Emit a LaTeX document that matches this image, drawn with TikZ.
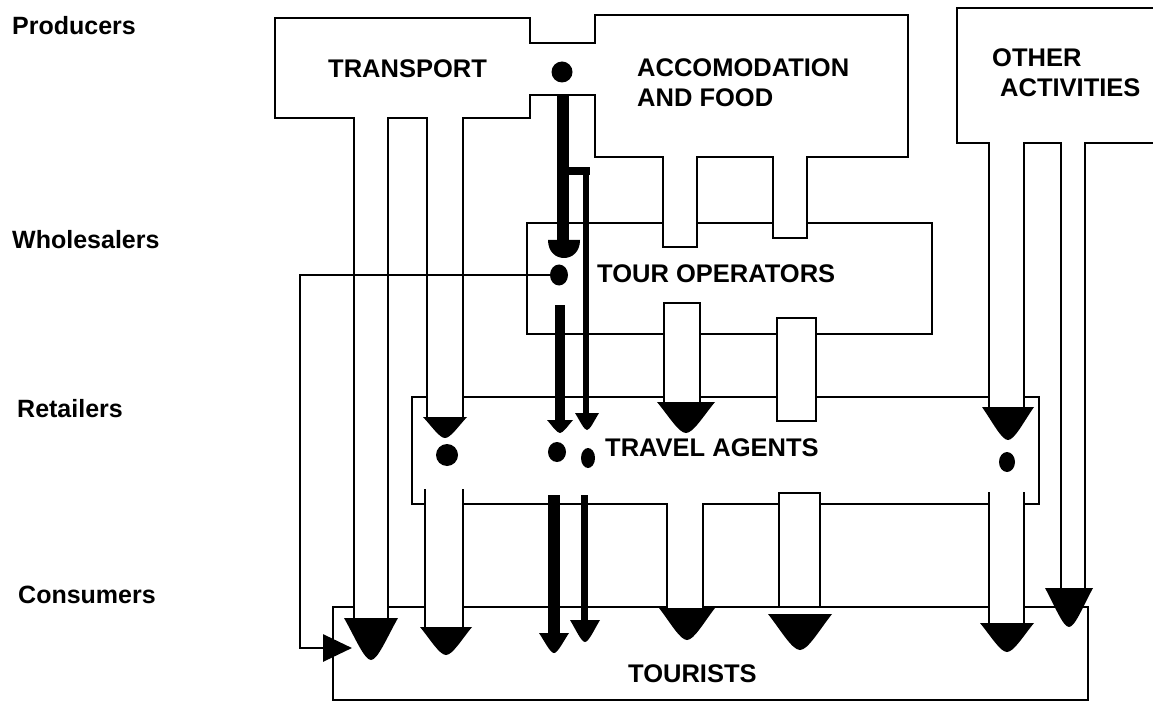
\documentclass[tikz,border=0pt]{standalone}
\usepackage{fontspec}
\setmainfont{Liberation Sans}
\usetikzlibrary{arrows.meta,shapes.geometric}
\newcommand\flowhead[4]{\fill ({#1-#3},#2) -- ({#1+#3},#2) .. controls ({#1+0.6*#3},{#2+0.45*(#4-#2)}) and ({#1+0.25*#3},#4) .. (#1,#4) .. controls ({#1-0.25*#3},#4) and ({#1-0.6*#3},{#2+0.45*(#4-#2)}) .. cycle;}
\begin{document}
\begin{tikzpicture}[x=1pt,y=-1pt,
  box/.style={line width=1.8pt, line cap=rect},
  link/.style={line width=2.8pt},
  blob/.style={ellipse, fill=black, inner sep=0pt},
  lbl/.style={font=\bfseries\fontsize{25}{28}\selectfont, anchor=base west, inner sep=0pt},
  ttl/.style={font=\bfseries\fontsize{25.5}{28}\selectfont, anchor=base west, inner sep=0pt}]
\useasboundingbox (0,0) rectangle (1153,703);
\fill[white] (0,0) rectangle (1153,703);

% Transport and accommodation (joined by a neck)
\draw[box] (595,43) -- (530,43) -- (530,18) -- (275,18) -- (275,118) -- (354,118);
\draw[box] (388,118) -- (427,118);
\draw[box] (463,118) -- (530,118) -- (530,95) -- (595,95) -- (595,157) -- (663,157) -- (663,247) -- (697,247) -- (697,157) -- (773,157) -- (773,238) -- (807,238) -- (807,157) -- (908,157) -- (908,15) -- (595,15) -- (595,43);

% transport channels
\draw[box] (354,118) -- (354,618) (388,118) -- (388,618);
\draw[box] (427,118) -- (427,417) (463,118) -- (463,417);
\draw[box] (425,490) -- (425,627) (463,490) -- (463,627);

% Tour operators
\draw[box] (663,223) -- (527,223) -- (527,334) -- (664,334);
\draw[box] (697,223) -- (773,223);
\draw[box] (807,223) -- (932,223) -- (932,334) -- (816,334);
\draw[box] (700,334) -- (777,334);
\draw[box] (664,402) -- (664,303) -- (700,303) -- (700,402);

% Travel agents
\draw[box] (427,397) -- (412,397) -- (412,504) -- (425,504);
\draw[box] (463,397) -- (664,397);
\draw[box] (700,397) -- (777,397);
\draw[box] (816,397) -- (989,397);
\draw[box] (1024,397) -- (1039,397) -- (1039,504) -- (1024,504);
\draw[box] (989,504) -- (820,504);
\draw[box] (779,504) -- (703,504);
\draw[box] (667,504) -- (463,504);
\draw[box] (667,504) -- (667,608) (703,504) -- (703,608);
\draw[box, fill=white] (777,318) rectangle (816,421);

% Other activities
\draw[box] (1153,8) -- (957,8) -- (957,143) -- (989,143) -- (989,407);
\draw[box] (1024,407) -- (1024,143) -- (1061,143) -- (1061,588);
\draw[box] (1085,588) -- (1085,143) -- (1153,143);
\draw[box] (989,493) -- (989,623) (1024,493) -- (1024,623);

% Tourists
\draw[box] (354,607) -- (333,607) -- (333,700) -- (1088,700) -- (1088,607) -- (1024,607);
\draw[box] (388,607) -- (425,607);
\draw[box] (463,607) -- (667,607);
\draw[box] (703,607) -- (779,607);
\draw[box] (820,607) -- (989,607);
\draw[box, fill=white] (779,493) rectangle (820,607);

% wide flow heads
\flowhead{371}{618}{27}{660}
\flowhead{445}{417}{22}{438}
\flowhead{446}{627}{26}{655}
\flowhead{686}{402}{29}{433}
\flowhead{687}{608}{28}{640}
\flowhead{800}{614}{32}{650}
\flowhead{1008}{407}{26}{440}
\flowhead{1007}{623}{27}{652}
\flowhead{1069}{588}{24}{627}

% thick package arrows
\fill (557,95) rectangle (569,241);
\fill (548,240) -- (580,240) .. controls (580,252) and (572,258) .. (564,258) .. controls (556,258) and (548,252) .. cycle;
\fill (563,167) rectangle (590,175);
\fill (583,167) rectangle (589,414);
\flowhead{587}{413}{12}{430}
\fill (555,305) rectangle (565,421);
\flowhead{560}{420}{13}{433}
\fill (548,495) rectangle (560,634);
\flowhead{554}{633}{15}{653}
\fill (581,495) rectangle (588,621);
\flowhead{585}{620}{15}{642}

% dots
\node[blob, minimum width=21pt, minimum height=21pt] (d1) at (562,72) {};
\node[blob, minimum width=18pt, minimum height=21pt] (d2) at (559,275) {};
\node[blob, minimum width=18pt, minimum height=20pt] (d3) at (557,452) {};
\node[blob, minimum width=14pt, minimum height=20pt] (d4) at (588,458) {};
\node[blob, minimum width=22pt, minimum height=22pt] (d5) at (447,455) {};
\node[blob, minimum width=16pt, minimum height=20pt] (d6) at (1007,462) {};

% direct sale connector
\coordinate (bendA) at (300,275);
\coordinate (bendB) at (300,648);
\coordinate (tourin) at (352,648);
\draw[link, -{Triangle[length=29pt,width=27pt]}] (d2.west) -- (bendA) -- (bendB) -- (tourin);

% texts
\node[ttl] (tr) at (328,78) {TRANSPORT};
\node[ttl] (ac1) at (637,77) {ACCOMODATION};
\node[ttl] (ac2) at (637,107) {AND FOOD};
\node[ttl] (oa1) at (992,67) {OTHER};
\node[ttl] (oa2) at (1000,97) {ACTIVITIES};
\node[ttl] (to) at (597,282) {TOUR OPERATORS};
\node[ttl] (ta) at (605,456) {TRAVEL AGENTS};
\node[ttl] (ts) at (628,682) {TOURISTS};
\node[lbl] (lp) at (12,35) {Producers};
\node[lbl] (lw) at (12,248) {Wholesalers};
\node[lbl] (lr) at (17,417) {Retailers};
\node[lbl] (lc) at (18,603) {Consumers};
\end{tikzpicture}
\end{document}
